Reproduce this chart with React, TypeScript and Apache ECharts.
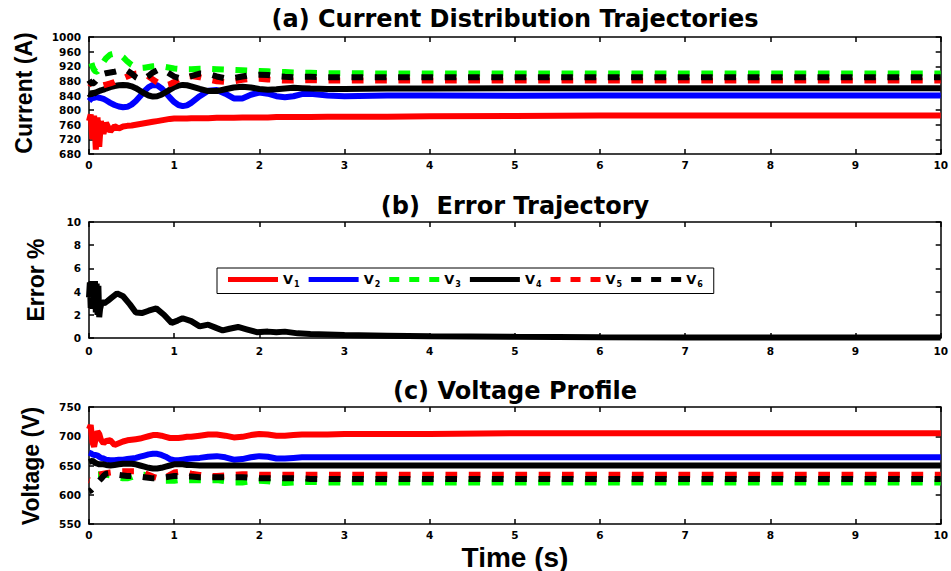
import React, { useEffect, useRef } from "react";
import * as echarts from "echarts";

// ---------- data ----------
const timeA = [
  0, 0.02, 0.04, 0.06, 0.08, 0.1, 0.12, 0.14, 0.17, 0.2,
  0.25, 0.3, 0.35, 0.4, 0.45, 0.5, 0.55, 0.6, 0.65, 0.7,
  0.75, 0.8, 0.85, 0.9, 0.95, 1.0, 1.05, 1.1, 1.15, 1.2,
  1.3, 1.4, 1.5, 1.6, 1.7, 1.8, 1.9, 2.0, 2.1, 2.2,
  2.3, 2.4, 2.5, 2.6, 2.8, 3.0, 3.5, 4, 5, 6,
  7, 8, 9, 10,
];

// (a) current (A)
const curV1 = [
  770, 788, 720, 785, 692, 780, 700, 770, 735, 765,
  742, 756, 750, 755, 757, 758, 760, 762, 764, 766,
  768, 770, 772, 774, 776, 777, 777, 777, 777, 778,
  778, 778, 779, 779, 779, 780, 780, 780, 780, 781,
  781, 781, 781, 781, 782, 782, 782, 783, 784, 785,
  785, 785, 785, 785,
];
const curV2 = [
  825, 830, 833, 834, 835, 835, 834, 833, 831, 827,
  820, 814, 810, 808, 809, 815, 825, 838, 852, 863,
  869, 868, 860, 848, 834, 822, 814, 811, 813, 820,
  838, 853, 855, 845, 832, 832, 842, 848, 845, 838,
  835, 838, 844, 845, 840, 838, 840, 840, 839, 840,
  840, 840, 840, 840,
];
const curV3 = [
  950, 935, 920, 910, 905, 906, 912, 920, 932, 942,
  952, 955, 953, 945, 933, 924, 918, 915, 916, 918,
  920, 921, 920, 918, 916, 914, 913, 912, 912, 912,
  913, 913, 912, 911, 910, 909, 908, 907, 906, 905,
  904, 903, 902, 902, 901, 901, 900, 900, 900, 900,
  900, 900, 900, 900,
];
const curV4 = [
  845, 840, 850, 845, 848, 850, 852, 854, 856, 859,
  863, 866, 868, 869, 868, 865, 860, 853, 846, 840,
  837, 838, 842, 849, 856, 863, 867, 869, 868, 865,
  858, 852, 852, 857, 862, 864, 862, 858, 856, 857,
  859, 861, 860, 859, 858, 858, 859, 859, 860, 860,
  860, 860, 860, 860,
];
const curV5 = [
  875, 872, 870, 868, 867, 866, 866, 867, 868, 870,
  873, 877, 882, 887, 892, 897, 900, 901, 898, 892,
  884, 876, 870, 868, 871, 877, 884, 889, 892, 893,
  890, 884, 879, 877, 879, 883, 886, 886, 884, 882,
  881, 881, 882, 882, 881, 881, 881, 881, 881, 881,
  881, 881, 881, 881,
];
const curV6 = [
  882, 875, 872, 875, 880, 886, 891, 895, 899, 901,
  903, 905, 908, 910, 908, 900, 890, 884, 886, 894,
  903, 909, 910, 906, 899, 892, 888, 887, 889, 893,
  900, 899, 892, 887, 888, 892, 896, 897, 896, 893,
  891, 890, 891, 891, 890, 890, 890, 890, 890, 890,
  890, 890, 890, 890,
];

// (b) error %
const timeB = [
  0, 0.01, 0.02, 0.03, 0.04, 0.05, 0.06, 0.07, 0.08, 0.09,
  0.1, 0.11, 0.12, 0.13, 0.15, 0.18, 0.22, 0.27, 0.33, 0.4,
  0.48, 0.55, 0.62, 0.7, 0.79, 0.88, 0.97, 1.04, 1.1, 1.2,
  1.3, 1.4, 1.5, 1.57, 1.65, 1.75, 1.85, 1.97, 2.1, 2.2,
  2.3, 2.45, 2.6, 2.8, 3, 3.5, 4, 5, 6, 7,
  8, 9, 10,
];
const errorPct = [
  3.5, 4.8, 2.6, 4.9, 2.5, 4.8, 2.7, 4.9, 2.2, 4.7,
  2.0, 4.5, 1.8, 2.5, 3.1, 3.0, 3.2, 3.5, 3.85, 3.6,
  2.9, 2.2, 2.15, 2.35, 2.55, 2.0, 1.3, 1.5, 1.7, 1.45,
  1.0, 1.15, 0.85, 0.65, 0.8, 0.95, 0.75, 0.5, 0.55, 0.5,
  0.55, 0.4, 0.35, 0.3, 0.25, 0.2, 0.15, 0.1, 0.07, 0.05,
  0.05, 0.05, 0.05,
];

// (c) voltage (V)
const volV1 = [
  712, 719, 690, 682, 698, 708, 704, 694, 688, 692,
  693, 685, 688, 691, 693, 694, 695, 696, 698, 700,
  702, 702, 701, 699, 697, 697, 697, 698, 699, 699,
  701, 703, 703, 701, 698, 699, 702, 704, 703, 701,
  701, 702, 703, 703, 703, 704, 704, 704, 705, 705,
  705, 705, 705, 705,
];
const volV2 = [
  672, 671, 669, 668, 668, 667, 665, 663, 662, 660,
  659, 659, 660, 660, 661, 662, 663, 665, 667, 669,
  670, 670, 668, 665, 661, 659, 659, 660, 661, 662,
  663, 665, 666, 664, 660, 661, 664, 666, 665, 662,
  662, 663, 664, 664, 664, 664, 664, 664, 664, 664,
  664, 664, 664, 664,
];
const volV3 = [
  636, 637, 637, 636, 636, 635, 635, 634, 634, 634,
  633, 632, 630, 628, 628, 630, 633, 634, 634, 632,
  629, 626, 624, 624, 624, 624, 625, 625, 625, 625,
  625, 625, 625, 623, 621, 621, 623, 624, 623, 621,
  620, 621, 622, 622, 621, 621, 621, 621, 621, 621,
  621, 621, 621, 621,
];
const volV4 = [
  656, 657, 658, 656, 654, 653, 652, 652, 652, 651,
  650, 651, 652, 653, 653, 653, 652, 650, 648, 646,
  645, 645, 646, 648, 650, 652, 652, 652, 651, 651,
  650, 650, 650, 650, 650, 650, 650, 650, 650, 650,
  650, 650, 650, 650, 650, 650, 650, 650, 650, 650,
  650, 650, 650, 650,
];
const volV5 = [
  625, 624, 626, 628, 631, 633, 634, 635, 636, 637,
  638, 639, 640, 640, 640, 640, 640, 639, 637, 634,
  631, 629, 628, 630, 634, 638, 639, 639, 638, 636,
  634, 632, 632, 633, 634, 635, 635, 634, 634, 634,
  634, 634, 634, 634, 634, 634, 634, 634, 634, 634,
  634, 634, 634, 634,
];
const volV6 = [
  606, 607, 610, 614, 618, 622, 624, 627, 632, 636,
  637, 636, 634, 633, 632, 632, 632, 631, 630, 629,
  628, 628, 629, 630, 631, 632, 632, 632, 631, 631,
  630, 630, 630, 630, 630, 630, 629, 628, 628, 628,
  628, 628, 628, 627, 627, 627, 627, 627, 627, 627,
  627, 627, 627, 627,
];

const seriesNames = ["V1", "V2", "V3", "V4", "V5", "V6"];
const titles = [
  "(a) Current Distribution Trajectories",
  "(b)  Error Trajectory",
  "(c) Voltage Profile",
];
const yNames = ["Current (A)", "Error %", "Voltage (V)"];
const xName = "Time (s)";
const yRanges = [
  { min: 680, max: 1000, interval: 40 },
  { min: 0, max: 10, interval: 2 },
  { min: 550, max: 750, interval: 50 },
];

// ---------- styles ----------
const COLORS = ["#ff0000", "#0000ff", "#00ff00", "#000000", "#ff0000", "#000000"];
const DASHED = [false, false, true, false, true, true];
const DASH = [11.7, 11.6];
const DASH_PHASE_X = 95.5; // a dash starts here (pixel x), so stacked dashes line up
const DASH_ICON = "path://M0,0h10v5h-10zM20,0h10v5h-10zM40,0h10v5h-10z";
const TICK_FONT = "DejaVu Sans";
const NAME_FONT = "Liberation Sans";

const pts = (ts: number[], vs: number[]) => ts.map((t, i) => [t, vs[i]]);

export default function App() {
  const ref = useRef<HTMLDivElement>(null);

  useEffect(() => {
    const chart = echarts.init(ref.current!, null, { renderer: "svg" });

    const grids = [
      { left: 89, right: 9, top: 37, height: 117 },
      { left: 89, right: 9, top: 222, height: 116 },
      { left: 89, right: 9, top: 407, height: 117 },
    ];
    const axisLineStyle = { color: "#000", width: 1.5 };
    const labelStyle = {
      color: "#000",
      fontFamily: TICK_FONT,
      fontWeight: "bold" as const,
      fontSize: 10.5,
      formatter: (v: number) => String(v),
    };
    const xMargins = [5, 7, 5];

    const xAxis: any[] = [];
    const yAxis: any[] = [];
    grids.forEach((_, g) => {
      ["bottom", "top"].forEach((pos) => {
        xAxis.push({
          gridIndex: g,
          type: "value",
          position: pos,
          min: 0,
          max: 10,
          interval: 1,
          axisLine: { show: true, onZero: false, lineStyle: axisLineStyle },
          axisTick: { show: true, inside: true, length: 5, lineStyle: axisLineStyle },
          axisLabel: { show: pos === "bottom", margin: xMargins[g], ...labelStyle },
          splitLine: { show: false },
        });
      });
      ["left", "right"].forEach((pos) => {
        yAxis.push({
          gridIndex: g,
          type: "value",
          position: pos,
          ...yRanges[g],
          axisLine: { show: true, onZero: false, lineStyle: axisLineStyle },
          axisTick: { show: true, inside: true, length: 5, lineStyle: axisLineStyle },
          axisLabel: { show: pos === "left", margin: 8, ...labelStyle },
          splitLine: { show: false },
        });
      });
    });

    type S = { name: string; ts: number[]; vs: number[]; color: string; dashed: boolean; g: number };
    const specs: S[] = [];
    const currents = [curV1, curV2, curV3, curV4, curV5, curV6];
    const voltages = [volV1, volV2, volV3, volV4, volV5, volV6];
    currents.forEach((vs, i) =>
      specs.push({ name: seriesNames[i], ts: timeA, vs, color: COLORS[i], dashed: DASHED[i], g: 0 })
    );
    specs.push({ name: "Error", ts: timeB, vs: errorPct, color: "#000000", dashed: false, g: 1 });
    voltages.forEach((vs, i) =>
      specs.push({ name: seriesNames[i], ts: timeA, vs, color: COLORS[i], dashed: DASHED[i], g: 2 })
    );

    const mk = (s: S, dashOffset = 0) => ({
      name: s.name,
      type: "line",
      xAxisIndex: s.g * 2,
      yAxisIndex: s.g * 2,
      data: pts(s.ts, s.vs),
      symbol: "none",
      showSymbol: false,
      silent: true,
      lineStyle: { color: s.color, width: 6, type: s.dashed ? DASH : "solid", dashOffset },
      itemStyle: { color: s.color },
    });

    const titleFont = { fontFamily: TICK_FONT, fontWeight: "bold", fontSize: 24, fill: "#000" };
    const nameFont = { fontFamily: NAME_FONT, fontWeight: "bold", fontSize: 23, fill: "#000" };
    const titleYs = [19, 206, 391];
    const nameXY = [
      [24, 93],
      [36, 280],
      [31, 466],
    ];

    const graphic: any[] = [];
    titles.forEach((t, i) =>
      graphic.push({
        type: "text",
        x: 515,
        y: titleYs[i],
        style: { text: t, align: "center", verticalAlign: "middle", ...titleFont },
      })
    );
    yNames.forEach((t, i) =>
      graphic.push({
        type: "text",
        x: nameXY[i][0],
        y: nameXY[i][1],
        rotation: Math.PI / 2,
        style: { text: t, align: "center", verticalAlign: "middle", ...nameFont },
      })
    );
    graphic.push({
      type: "text",
      x: 515,
      y: 557,
      style: { text: xName, align: "center", verticalAlign: "middle", ...nameFont, fontSize: 28 },
    });

    const legend = {
      left: 217,
      top: 268,
      orient: "horizontal",
      data: seriesNames.map((n, i) => ({ name: n, icon: DASHED[i] ? DASH_ICON : "rect" })),
      itemWidth: 50,
      itemHeight: 5,
      itemGap: 9,
      borderColor: "#000",
      borderWidth: 1,
      padding: [5, 11, 5, 11],
      selectedMode: false,
      itemStyle: { borderWidth: 0 },
      formatter: (n: string) => `{v|V}{s|${n.slice(1)}}`,
      textStyle: {
        color: "#000",
        rich: {
          v: { fontFamily: TICK_FONT, fontWeight: "bold", fontSize: 13, lineHeight: 18 },
          s: {
            fontFamily: TICK_FONT,
            fontWeight: "bold",
            fontSize: 8,
            lineHeight: 9,
            verticalAlign: "bottom",
            padding: [0, 0, 0, 1],
          },
        },
      },
    };

    chart.setOption({
      animation: false,
      backgroundColor: "#ffffff",
      grid: grids,
      xAxis,
      yAxis,
      series: specs.map((s) => mk(s)),
      graphic,
      legend,
    });

    // Align the dash phase of the dashed curves (as in the source figure,
    // where all dashed traces share the same sampling): compute each path's
    // on-screen length up to its settled part and offset the dash pattern.
    const period = DASH[0] + DASH[1];
    const offsets = specs.map((s) => {
      if (!s.dashed) return 0;
      const px = s.ts.map((t, i) => chart.convertToPixel({ gridIndex: s.g }, [t, s.vs[i]]) as number[]);
      const k = s.ts.findIndex((t) => t >= 3);
      let L = 0;
      for (let i = 1; i <= k; i++) L += Math.hypot(px[i][0] - px[i - 1][0], px[i][1] - px[i - 1][1]);
      const off = px[k][0] - DASH_PHASE_X - L;
      return ((off % period) + period) % period;
    });
    chart.setOption({ series: specs.map((s, i) => mk(s, offsets[i])) });

    return () => chart.dispose();
  }, []);

  return (
    <div
      ref={ref}
      style={{ position: "fixed", left: 0, top: 0, width: 951, height: 571, background: "#fff" }}
    />
  );
}
